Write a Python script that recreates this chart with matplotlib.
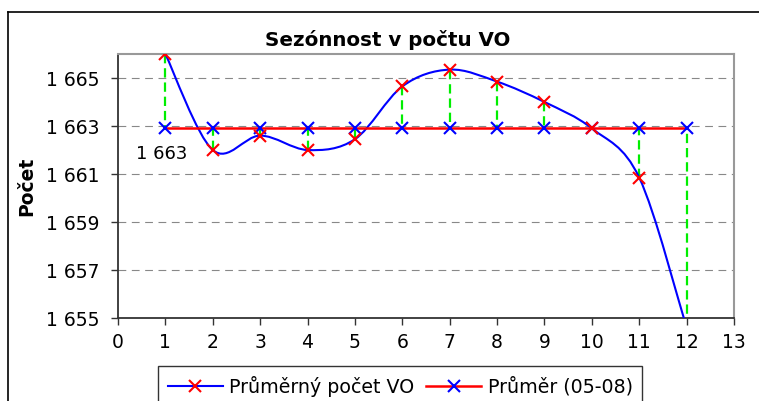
import numpy as np
import matplotlib
matplotlib.use('Agg')
import matplotlib.pyplot as plt
from matplotlib.path import Path
from matplotlib.patches import PathPatch
from matplotlib.lines import Line2D

# average VO count per month vs. the 05-08 mean
months = [1, 2, 3, 4, 5, 6, 7, 8, 9, 10, 11, 12]
avg_count = [1666.0, 1662.0, 1662.6, 1662.0, 1662.45, 1664.65,
             1665.35, 1664.85, 1664.0, 1662.9, 1660.85, 1654.6]
mean_0508 = [1662.92] * 12
mean_label = '1 663'

y_ticks = [1655, 1657, 1659, 1661, 1663, 1665]
x_ticks = list(range(0, 14))

plt.rcParams['font.family'] = ['DejaVu Sans']

W, H = 759, 401
fig = plt.figure(figsize=(W / 100, H / 100), dpi=100)
ax = fig.add_axes([118 / W, 1 - 318 / H, (734 - 118) / W, (318 - 54) / H])


def smooth_path(xs, ys):
    # Catmull-Rom style bezier segments, like Excel's smoothed line
    pts = np.column_stack([xs, ys])
    ext = np.vstack([pts[0], pts, pts[-1]])
    verts = [pts[0]]
    codes = [Path.MOVETO]
    for i in range(len(pts) - 1):
        p0, p1, p2, p3 = ext[i], ext[i + 1], ext[i + 2], ext[i + 3]
        verts += [p1 + (p2 - p0) / 6, p2 - (p3 - p1) / 6, p2]
        codes += [Path.CURVE4] * 3
    return Path(verts, codes)


# green dashed drop lines between the two series
for m, a, b in zip(months, avg_count, mean_0508):
    ax.plot([m, m], [a, b], color='#00ee00', lw=1.6,
            linestyle=(0, (4.2, 2.2)), zorder=3)

ax.add_patch(PathPatch(smooth_path(months, avg_count), facecolor='none',
                       edgecolor='#0000ff', lw=1.5, zorder=4))
ax.plot(months, avg_count, linestyle='none', marker='x', color='#ff0000',
        markersize=9, markeredgewidth=1.5, zorder=6)

ax.plot(months, mean_0508, color='#ff0000', lw=1.8, zorder=4)
ax.plot(months, mean_0508, linestyle='none', marker='x', color='#0000ff',
        markersize=9, markeredgewidth=1.5, zorder=5)

ax.annotate(mean_label, (months[0], mean_0508[0]), xytext=(-4, -26),
            textcoords='offset pixels', ha='center', va='center', fontsize=13)

ax.set_xlim(0, 13)
ax.set_ylim(1655, 1666)
ax.set_xticks(x_ticks)
ax.set_yticks(y_ticks)
ax.set_yticklabels([f'{v:,}'.replace(',', ' ') for v in y_ticks])
ax.tick_params(labelsize=13.5, length=5, width=1, color='#333333', pad=8)
ax.tick_params(axis='x', pad=6)
ax.yaxis.grid(True, color='#888888', lw=0.8, linestyle=(0, (7, 5)))
ax.set_axisbelow(True)

for side in ('left', 'bottom'):
    ax.spines[side].set_color('#333333')
    ax.spines[side].set_linewidth(1.3)
for side in ('top', 'right'):
    ax.spines[side].set_color('#999999')
    ax.spines[side].set_linewidth(1.5)

fig.text(388 / W, 1 - 40 / H, 'Sezónnost v počtu VO', ha='center',
         va='center', fontsize=14.3, fontweight='bold')
fig.text(27 / W, 1 - 186 / H, 'Počet', ha='center', va='center',
         rotation=90, fontsize=13.5, fontweight='bold')

# outer chart border (left and top edges visible)
fig.add_artist(Line2D([8 / W, 8 / W], [0, 1 - 12 / H], color='black', lw=1.2))
fig.add_artist(Line2D([8 / W, 1], [1 - 12 / H, 1 - 12 / H], color='black', lw=1.2))

handles = [
    Line2D([], [], color='#0000ff', lw=1.5, marker='x', markersize=9,
           markeredgecolor='#ff0000', markeredgewidth=1.5),
    Line2D([], [], color='#ff0000', lw=1.8, marker='x', markersize=9,
           markeredgecolor='#0000ff', markeredgewidth=1.5),
]
leg = fig.legend(handles, ['Průměrný počet VO', 'Průměr (05-08)'],
                 loc='upper left', bbox_to_anchor=(158 / W, 1 - 366 / H),
                 ncol=2, fontsize=13.7, frameon=True, fancybox=False,
                 handlelength=2.9, handletextpad=0.35, columnspacing=0.6,
                 borderpad=0.5, borderaxespad=0)
leg.get_frame().set_edgecolor('black')
leg.get_frame().set_linewidth(1.0)

fig.savefig('out.png', dpi=100)
